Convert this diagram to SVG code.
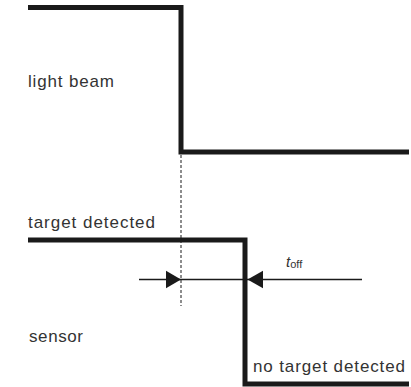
<svg xmlns="http://www.w3.org/2000/svg" width="411" height="387" viewBox="0 0 411 387">
<style>
.sig{fill:none;stroke:#1a1a1a;stroke-width:5;stroke-linejoin:miter;stroke-linecap:butt}
.lbl{font-family:"Liberation Sans",Arial,sans-serif;font-size:17px;fill:#333}
.dim{stroke:#1a1a1a;stroke-width:1.5;fill:none}
.head{fill:#1a1a1a}
</style>
<rect width="411" height="387" fill="#fff"/>
<g id="light-beam">
<path class="sig" d="M28,7.5 H181 V152 H409"/>
<text class="lbl" x="28" y="86.5" textLength="86" lengthAdjust="spacing">light beam</text>
</g>
<g id="sensor">
<path class="sig" d="M28,240 H245 V384 H409"/>
<text class="lbl" x="28" y="228" textLength="127" lengthAdjust="spacing">target detected</text>
<text class="lbl" x="29" y="342" textLength="54" lengthAdjust="spacing">sensor</text>
<text class="lbl" x="253" y="372" textLength="152" lengthAdjust="spacing">no target detected</text>
</g>
<g id="connectors">
<line x1="181" y1="155" x2="181" y2="306" stroke="#1a1a1a" stroke-width="1" stroke-dasharray="3,2"/>
<line class="dim" x1="139" y1="279.5" x2="362" y2="279.5"/>
<polygon class="head" points="166,270.7 181,279.5 166,288.3"/>
<polygon class="head" points="263,270.7 247.5,279.5 263,288.3"/>
</g>
<g id="t-off">
<text x="286" y="267" font-family="'Liberation Sans',Arial,sans-serif" font-size="15" font-style="italic" fill="#333">t<tspan font-style="normal" font-size="11" dy="1">off</tspan></text>
</g>
</svg>
